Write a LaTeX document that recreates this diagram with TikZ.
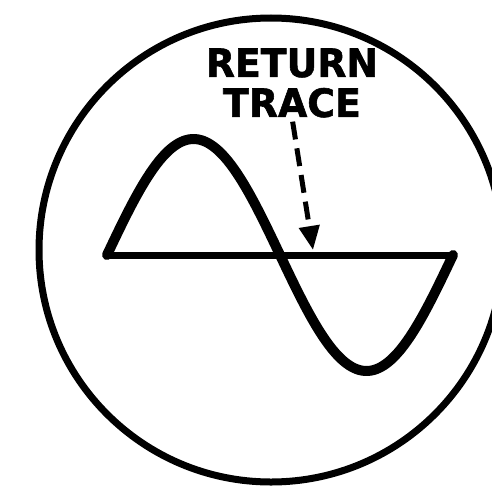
\documentclass[tikz,border=0pt]{standalone}
\usepackage{fontspec}
\setmainfont{DejaVu Sans}
\newfontfamily\labelfont{DejaVu Sans}[BoldFeatures={FakeBold=1.5}]
\usetikzlibrary{arrows.meta}

\tikzset{
  scope ring/.style={black, line width=7pt},
  trace line/.style={black, line width=10pt, line join=round, line cap=round},
  base line/.style={black, line width=7pt, line cap=round},
  trace label/.style={align=center, inner sep=0pt,
    font=\labelfont\bfseries\fontsize{39}{40}\selectfont},
  return arrow/.style={black, line width=5pt, dash pattern=on 18pt off 9pt,
    -{Triangle[length=24pt, width=20pt]}}
}

\begin{document}
\begin{tikzpicture}[x=1pt, y=-1pt]
  \clip (0,0) rectangle (492,487);
  \fill[white] (0,0) rectangle (492,487);

  % screen of the scope
  \draw[scope ring] (271,250) circle[radius=232];

  % ends of the sweep
  \coordinate (left) at (107,255);
  \coordinate (right) at (453,255);
  \coordinate (tip) at (313,250);

  \draw[trace line]
    plot[domain=0:360, samples=73, smooth]
    ({107+\x/360*346}, {255-116*sin(\x)});
  \draw[base line] (left) -- (right);

  \node[trace label, xscale=0.97] (lbl) at (292,83) {RETURN\\TRACE};
  \draw[return arrow, shorten <=4pt] (lbl.south) -- (tip);
\end{tikzpicture}
\end{document}
